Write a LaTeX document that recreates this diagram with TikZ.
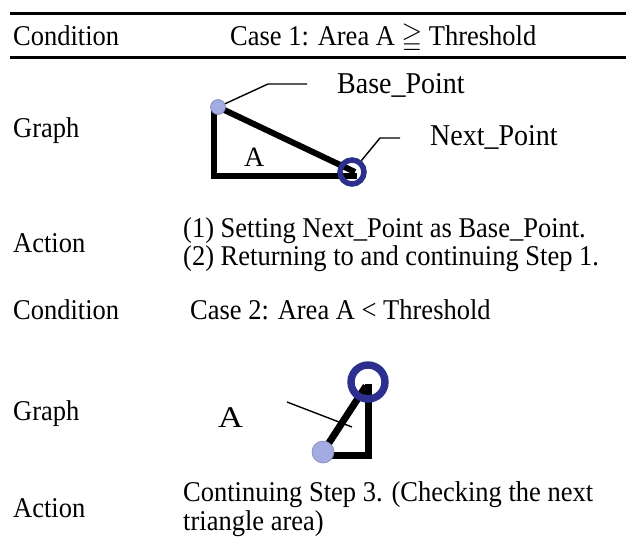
\documentclass[tikz,border=0pt]{standalone}
\usepackage{amssymb}
\usepackage{graphicx}
\usepackage{fontspec}
\setmainfont{Liberation Serif}

\definecolor{ptfill}{HTML}{A2ABE2}
\definecolor{ptedge}{HTML}{8088B8}
\definecolor{ringblue}{HTML}{2C2F8E}

% slightly tall lettering
\newcommand{\tallt}[1]{\scalebox{1}[1.08]{#1}}

\begin{document}
\begin{tikzpicture}[x=1pt,y=-1pt,
  txt/.style={anchor=base west, inner sep=0pt, font=\fontsize{26.5}{30}\selectfont},
  lbl/.style={anchor=base west, inner sep=0pt, font=\fontsize{28}{32}\selectfont},
  rulebar/.style={line width=3pt},
  edgeline/.style={line width=6pt, line join=miter},
  leader/.style={line width=1.4pt},
  basept/.style={circle, fill=ptfill, draw=ptedge, line width=0.6pt, inner sep=0pt},
  nextpt/.style={circle, draw=ringblue, inner sep=0pt},
]
% page frame
\fill[white] (0,0) rectangle (626,541);
\useasboundingbox (0,0) rectangle (626,541);

% table rules
\coordinate (r1l) at (10,13);  \coordinate (r1r) at (626,13);
\coordinate (r2l) at (10,57);  \coordinate (r2r) at (626,57);
\draw[rulebar] (r1l) -- (r1r);
\draw[rulebar] (r2l) -- (r2r);

% left column
\node[txt] (cond1)   at (13,45)  {\tallt{Condition}};
\node[txt] (graph1)  at (13,137) {\tallt{Graph}};
\node[txt] (action1) at (13,252) {\tallt{Action}};
\node[txt] (cond2)   at (13,319) {\tallt{Condition}};
\node[txt] (graph2)  at (13,420) {\tallt{Graph}};
\node[txt] (action2) at (13,517) {\tallt{Action}};

% right column
\node[txt] (case1) at (230,45) {\tallt{Case 1: Area A $\geqq$ Threshold}};
\node[txt] (act1a) at (183,237) {\tallt{(1) Setting Next\_Point as Base\_Point.}};
\node[txt] (act1b) at (183,265) {\tallt{(2) Returning to and continuing Step 1.}};
\node[txt] (case2) at (190,319) {\tallt{Case 2: Area A < Threshold}};
\node[txt] (act2a) at (183,501) {\tallt{Continuing Step 3. (Checking the next}};
\node[txt] (act2b) at (183,530) {\tallt{triangle area)}};

% ---- case 1 sketch ----
\coordinate (c1top) at (214,107);
\coordinate (c1corner) at (214,176);
\coordinate (c1right) at (357,176);
\coordinate (c1hyp) at (355,172);
\draw[edgeline] (c1top) -- (c1corner) -- (c1right);
\draw[edgeline] (218,107) coordinate (c1start) -- (c1hyp);
\node[basept, minimum size=15pt] (bp1) at (218,107) {};
\node[nextpt, line width=5.5pt, minimum size=24pt] (np1) at (352,172) {};
\node[lbl] (a1) at (244,166) {A};

\coordinate (bpk) at (268,84);
\coordinate (bpe) at (307,84);
\draw[leader] (bp1) -- (bpk) -- (bpe);
\node[lbl] (bplbl) at (337,93) {\tallt{Base\_Point}};

\coordinate (npk) at (380,138);
\coordinate (npe) at (400,138);
\draw[leader] (np1) -- (npk) -- (npe);
\node[lbl] (nplbl) at (430,145) {\tallt{Next\_Point}};

% ---- case 2 sketch ----
\coordinate (c2top) at (368,384);
\coordinate (c2corner) at (368,455);
\coordinate (c2left) at (323,455);
\coordinate (c2hyp) at (366,386);
\draw[edgeline, line width=7pt] (c2top) -- (c2corner) -- (c2left);
\draw[edgeline, line width=7pt] (323,452) coordinate (c2start) -- (c2hyp);
\node[basept, minimum size=22pt] (bp2) at (323,452) {};
\node[nextpt, line width=7.4pt, minimum size=34pt] (np2) at (368,382) {};
\node[lbl, font=\fontsize{30}{34}\selectfont, xscale=1.15] (a2) at (218,427) {A};
\coordinate (c2ls) at (287,402);
\coordinate (c2le) at (352,427);
\draw[leader] (c2ls) -- (c2le);
\end{tikzpicture}
\end{document}
